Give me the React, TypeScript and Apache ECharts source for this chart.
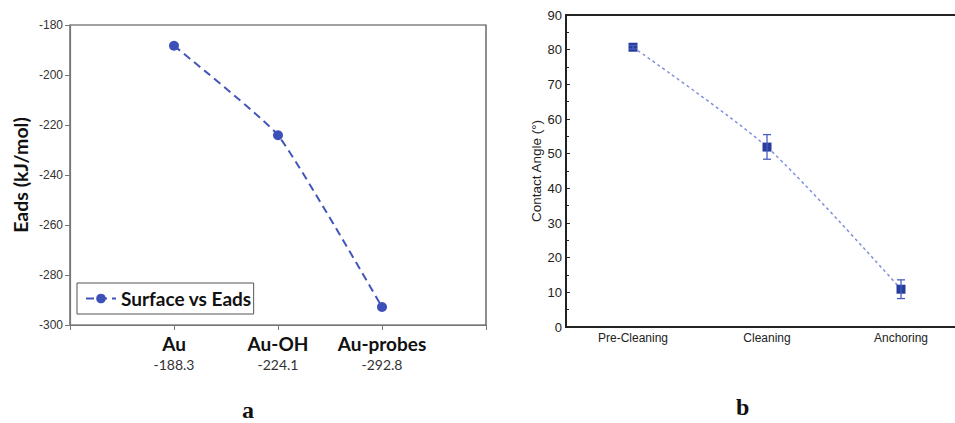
import React, { useEffect, useRef } from "react";
import * as echarts from "echarts";

// Panel a
const surfaceCats = ["", "Au", "Au-OH", "Au-probes", ""];
const eadsValues = [null, -188.3, -224.1, -292.8, null];
const eadsTicks = { min: -300, max: -180, interval: 20 };

// Panel b
const stageCats = ["Pre-Cleaning", "Cleaning", "Anchoring"];
const angleValues = [80.7, 51.9, 10.9];
const angleLow = [80.2, 48.4, 8.2];
const angleHigh = [81.2, 55.5, 13.6];
const angleTicks = { min: 0, max: 90, interval: 10 };

export default function App() {
  const ref = useRef<HTMLDivElement>(null);
  useEffect(() => {
    if (!ref.current) return;
    const chart = echarts.init(ref.current, undefined, { renderer: "svg" });
    const errData = stageCats.map((c, i) => [i, angleLow[i], angleHigh[i]]);
    chart.setOption({
      animation: false,
      backgroundColor: "#fff",
      grid: [
        { left: 70, top: 25, right: 482, bottom: 98, show: true, borderColor: "#444", borderWidth: 1.2, backgroundColor: "transparent" },
        { left: 566, top: 15, right: 0, bottom: 96, show: true, borderColor: "#222", borderWidth: 2, backgroundColor: "transparent" },
      ],
      legend: {
        data: ["Surface vs Eads"],
        left: 77,
        top: 283,
        padding: [6, 2, 6, 8],
        borderColor: "#555",
        borderWidth: 1,
        itemWidth: 30,
        itemHeight: 12,
        textStyle: { fontFamily: "Lato", fontWeight: "bold", fontSize: 19, color: "#111" },
      },
      xAxis: [
        {
          gridIndex: 0,
          type: "category",
          data: surfaceCats,
          boundaryGap: false,
          axisLine: { lineStyle: { color: "#777", width: 1.2 } },
          axisTick: { show: true, interval: 0, length: 5, lineStyle: { color: "#777" } },
          axisLabel: {
            interval: 0,
            margin: 7,
            formatter: (v: string, i: number) =>
              v ? `{b|${v}}\n{v|${(eadsValues[i] as number).toFixed(1)}}` : "",
            rich: {
              b: { fontFamily: "Lato", fontWeight: "bold", fontSize: 19, color: "#111", lineHeight: 22 },
              v: { fontFamily: "Lato", fontSize: 14, color: "#333", lineHeight: 20 },
            },
          },
        },
        {
          gridIndex: 1,
          type: "category",
          data: stageCats,
          boundaryGap: true,
          axisLine: { lineStyle: { color: "#222", width: 2 } },
          axisTick: { show: false },
          axisLabel: { fontFamily: "Liberation Sans", fontSize: 12, color: "#222", margin: 5 },
        },
      ],
      yAxis: [
        {
          gridIndex: 0,
          type: "value",
          min: eadsTicks.min,
          max: eadsTicks.max,
          interval: eadsTicks.interval,
          name: "Eads (kJ/mol)",
          nameLocation: "middle",
          nameGap: 40,
          nameTextStyle: { fontFamily: "Lato", fontWeight: "bold", fontSize: 19.5, color: "#111" },
          axisLine: { show: true, lineStyle: { color: "#777", width: 1.2 } },
          axisTick: { show: true, length: 5, lineStyle: { color: "#777" } },
          splitLine: { show: false },
          axisLabel: { fontFamily: "Liberation Sans", fontSize: 12, color: "#333", margin: 7 },
        },
        {
          gridIndex: 1,
          type: "value",
          min: angleTicks.min,
          max: angleTicks.max,
          interval: angleTicks.interval,
          name: "Contact Angle (°)",
          nameLocation: "middle",
          nameGap: 23,
          nameTextStyle: { fontFamily: "Liberation Sans", fontSize: 13.5, color: "#222" },
          axisLine: { show: true, lineStyle: { color: "#222", width: 2 } },
          axisTick: { show: true, inside: true, length: 4, lineStyle: { color: "#222" } },
          minorTick: { show: true, splitNumber: 2, length: 3, lineStyle: { color: "#222" } },
          splitLine: { show: false },
          axisLabel: { fontFamily: "Liberation Sans", fontSize: 13, color: "#222", margin: 4 },
        },
      ],
      series: [
        {
          name: "Surface vs Eads",
          type: "line",
          xAxisIndex: 0,
          yAxisIndex: 0,
          data: eadsValues,
          smooth: 0.15,
          symbol: "circle",
          symbolSize: 10,
          itemStyle: { color: "#3d50b8" },
          lineStyle: { color: "#4355b9", width: 2, type: [8, 5] },
        },
        {
          name: "Contact Angle",
          type: "line",
          xAxisIndex: 1,
          yAxisIndex: 1,
          data: angleValues,
          smooth: 0.25,
          symbol: "rect",
          symbolSize: 9,
          itemStyle: { color: "#283c9c" },
          lineStyle: { color: "#8090dc", width: 1.5, type: [3, 3] },
          z: 3,
        },
        {
          type: "custom",
          xAxisIndex: 1,
          yAxisIndex: 1,
          data: errData,
          encode: { x: 0, y: [1, 2] },
          z: 4,
          renderItem: (params: any, api: any) => {
            const x = api.value(0);
            const lo = api.coord([x, api.value(1)]);
            const hi = api.coord([x, api.value(2)]);
            const w = 4;
            const st = { stroke: "#4a5cc0", lineWidth: 1.3 };
            return {
              type: "group",
              children: [
                { type: "line", shape: { x1: lo[0], y1: lo[1], x2: hi[0], y2: hi[1] }, style: st },
                { type: "line", shape: { x1: lo[0] - w, y1: lo[1], x2: lo[0] + w, y2: lo[1] }, style: st },
                { type: "line", shape: { x1: hi[0] - w, y1: hi[1], x2: hi[0] + w, y2: hi[1] }, style: st },
              ],
            };
          },
        },
      ],
      graphic: [
        { type: "text", left: 242, top: 398, style: { text: "a", font: "bold 24px 'Liberation Serif'", fill: "#111" } },
        { type: "text", left: 736, top: 395, style: { text: "b", font: "bold 24px 'Liberation Serif'", fill: "#111" } },
      ],
    });
    return () => chart.dispose();
  }, []);
  return (
    <div style={{ position: "absolute", left: 0, top: 0, width: 955, height: 423, overflow: "hidden", background: "#fff" }}>
      <div ref={ref} style={{ position: "absolute", left: 0, top: 0, width: 968, height: 423 }} />
    </div>
  );
}
